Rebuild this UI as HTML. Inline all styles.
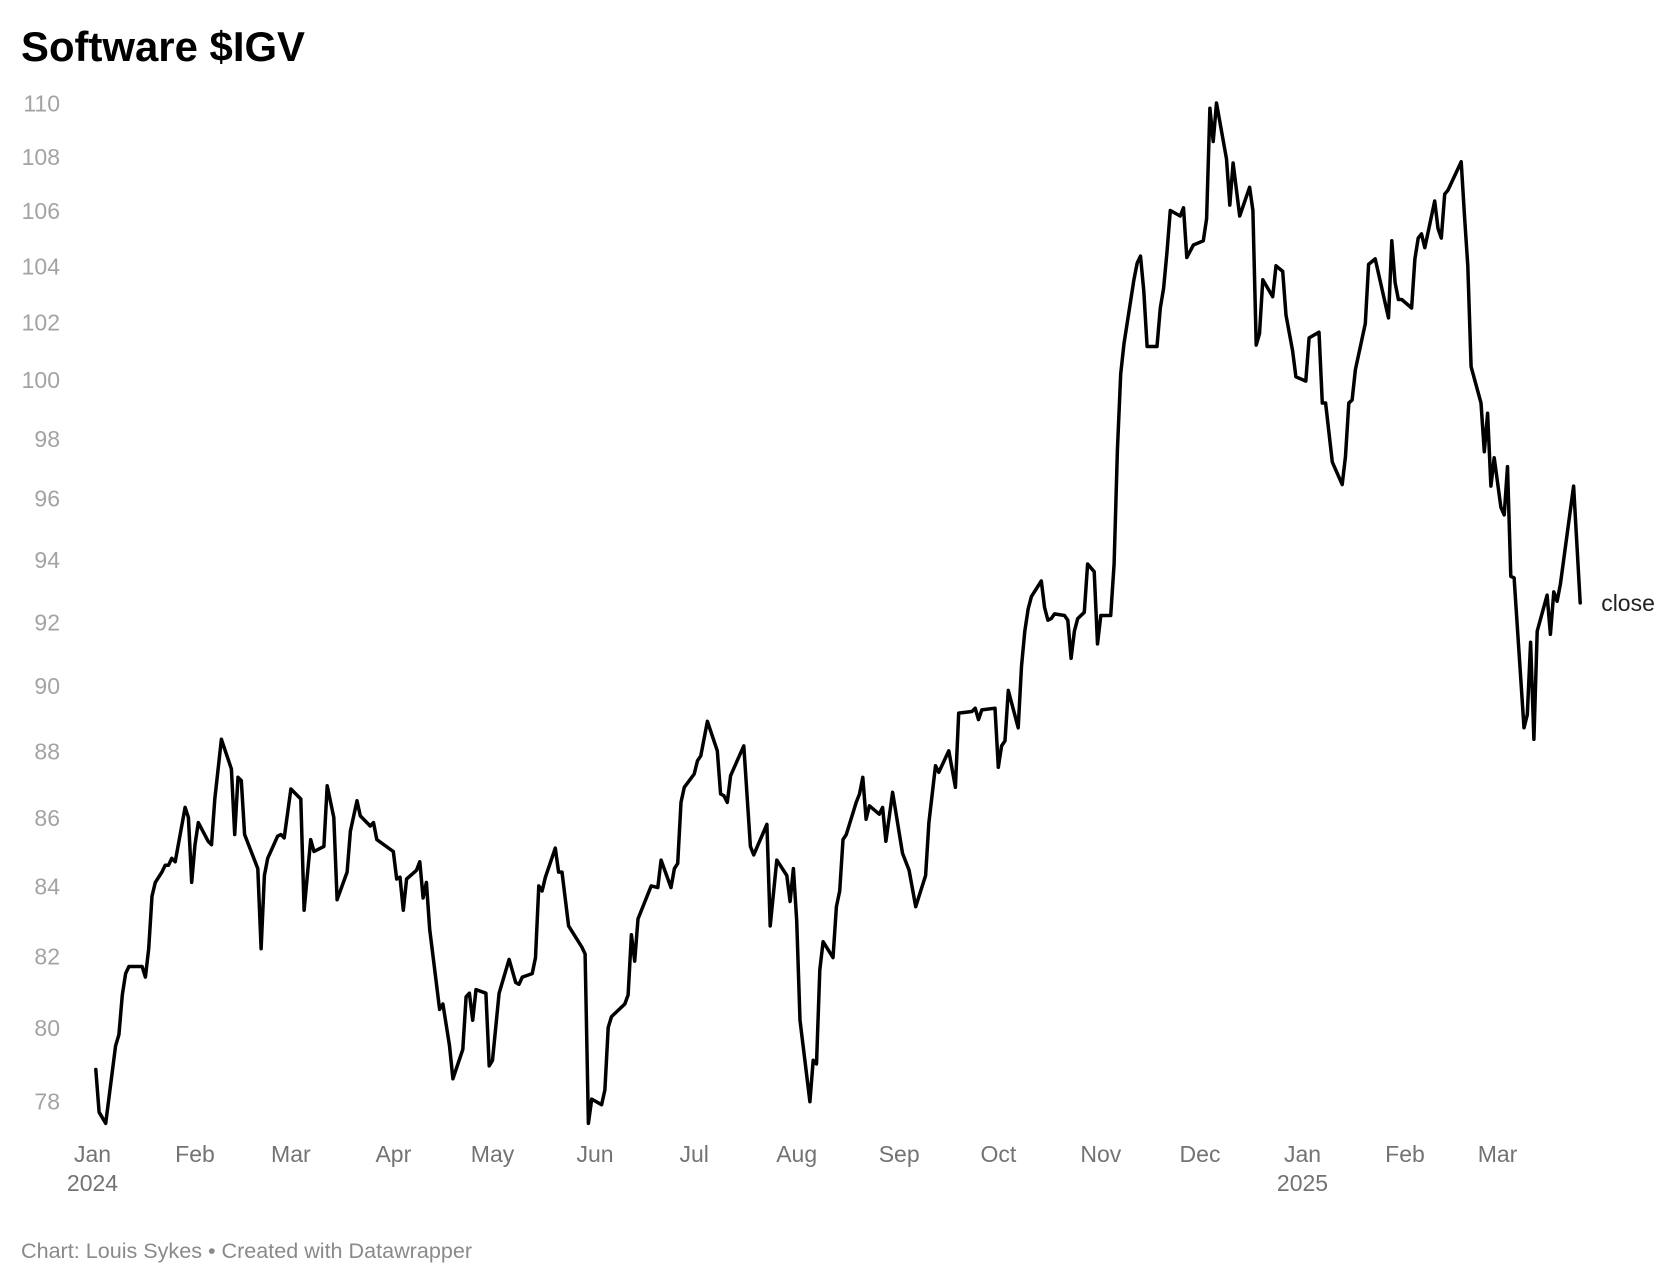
<!DOCTYPE html>
<html>
<head>
<meta charset="utf-8">
<title>Software $IGV</title>
<style>
  html,body{margin:0;padding:0;background:#fff;}
  svg{display:block;font-family:"Liberation Sans",Arial,sans-serif;}
</style>
</head>
<body>
<svg id="chart" width="1680" height="1284" viewBox="0 0 1680 1284" xmlns="http://www.w3.org/2000/svg">
  <rect x="0" y="0" width="1680" height="1284" fill="#ffffff"/>
  <text x="21" y="61" font-size="42" font-weight="bold" fill="#000" textLength="284" lengthAdjust="spacingAndGlyphs">Software $IGV</text>
  <g id="yaxis"></g>
  <g id="xaxis"></g>
  <g id="plot"></g>
  <text x="21" y="1258" font-size="21" fill="#8a8a8a" textLength="451" lengthAdjust="spacingAndGlyphs">Chart: Louis Sykes • Created with Datawrapper</text>
</svg>
<script>
// Days since 2024-01-01
const days = [1,2,4,7,8,9,10,11,15,16,17,18,19,21,22,23,24,25,28,29,30,31,32,35,36,37,39,42,43,44,45,46,50,51,52,53,56,57,58,60,63,64,66,67,70,71,73,74,
77,78,80,81,84,85,86,91,92,93,94,95,98,99,100,101,102,105,106,108,109,112,113,114,115,116,119,120,121,123,126,128,129,130,133,134,135,136,137,140,141,142,144,148,149,150,151,154,155,156,157,161,162,163,164,165,169,171,172,
175,176,177,178,179,182,183,184,186,189,190,191,192,193,195,197,199,200,204,205,207,210,211,212,213,214,217,218,219,220,221,224,225,226,227,228,231,232,233,234,235,238,239,240,242,245,247,249,252,253,255,256,259,261,262,266,267,268,269,
273,274,275,276,277,280,281,282,283,284,287,288,289,290,291,294,295,296,297,298,300,301,303,304,305,308,309,310,311,312,315,316,317,318,319,322,323,324,325,326,329,330,331,333,336,337,338,339,340,343,344,345,347,350,351,352,353,354,357,358,360,361,363,364,367,368,371,372,373,
375,378,379,380,381,382,385,386,388,392,393,394,395,396,399,400,401,402,403,406,407,408,409,410,414,415,416,417,420,421,422,423,424,426,427,428,429,430,433,434,435,436,437,440,441,442,443,444,448,450];
const closes = [78.85,77.7,77.4,79.5,79.8,80.9,81.5,81.7,81.7,81.4,82.2,83.7,84.1,84.4,84.6,84.6,84.8,84.7,86.3,86.0,84.1,85.2,85.85,85.3,85.2,86.55,88.35,87.45,85.5,87.2,87.1,85.5,84.5,82.2,84.3,84.8,85.45,85.5,85.4,86.85,86.55,83.3,85.35,85.0,85.15,86.95,86.0,83.6,
84.4,85.6,86.5,86.05,85.75,85.85,85.35,85.0,84.2,84.25,83.3,84.2,84.45,84.7,83.65,84.1,82.75,80.5,80.65,79.5,78.6,79.4,80.85,80.95,80.2,81.05,80.95,78.95,79.1,80.95,81.9,81.25,81.2,81.4,81.5,81.95,84.0,83.85,84.25,85.1,84.4,84.4,82.85,82.25,82.05,77.4,78.05,77.9,78.3,80.0,80.3,80.65,80.9,82.6,81.85,83.05,84.0,83.95,84.75,
83.95,84.5,84.65,86.45,86.9,87.3,87.7,87.85,88.9,88.0,86.7,86.65,86.45,87.25,87.7,88.15,85.15,84.9,85.8,82.85,84.75,84.3,83.55,84.5,83.0,80.2,77.98,79.1,79.0,81.6,82.4,81.95,83.4,83.85,85.35,85.5,86.45,86.7,87.2,85.95,86.35,86.1,86.3,85.3,86.75,84.95,84.45,83.4,84.3,85.85,87.55,87.35,88.0,86.9,89.15,89.2,89.3,88.95,89.25,
89.3,87.5,88.15,88.3,89.85,88.7,90.6,91.7,92.4,92.8,93.3,92.45,92.05,92.1,92.25,92.2,92.05,90.85,91.7,92.1,92.3,93.85,93.6,91.3,92.2,92.2,93.85,97.6,100.2,101.25,103.5,104.1,104.35,103.1,101.15,101.15,102.5,103.2,104.5,106.0,105.8,106.1,104.3,104.75,104.9,105.7,109.8,108.55,110.0,107.9,106.2,107.75,105.8,106.85,106.0,101.2,101.6,103.5,102.9,104.0,103.8,102.25,101.0,100.1,99.95,101.45,101.65,99.2,99.2,
97.2,96.45,97.4,99.2,99.3,100.35,101.95,104.05,104.25,102.15,104.9,103.4,102.8,102.8,102.5,104.25,105.0,105.15,104.65,106.35,105.35,105.0,106.6,106.75,107.8,105.8,104.0,100.45,99.2,97.55,98.85,96.4,97.35,95.7,95.45,97.05,93.45,93.4,88.7,89.1,91.35,88.35,91.7,92.85,91.6,92.95,92.65,93.2,96.4,92.6];
const yTicks = [110,108,106,104,102,100,98,96,94,92,90,88,86,84,82,80,78];
const monthLabels = ["Jan","Feb","Mar","Apr","May","Jun","Jul","Aug","Sep","Oct","Nov","Dec","Jan","Feb","Mar"];
const monthDays = [0,31,60,91,121,152,182,213,244,274,305,335,366,397,425];
const yearLabels = ["2024","","","","","","","","","","","","2025","",""];
const seriesLabel = "close";

const NS = "http://www.w3.org/2000/svg";
const X0 = 92.5, PX_PER_DAY = 3.306;
const Y_TOP = 103, Y_BOT = 1101, V_TOP = 110, V_BOT = 78;
function xScale(d){ return X0 + d * PX_PER_DAY; }
function yScale(v){ return Y_TOP + (Math.log(V_TOP) - Math.log(v)) / (Math.log(V_TOP) - Math.log(V_BOT)) * (Y_BOT - Y_TOP); }

const yaxis = document.getElementById('yaxis');
yTicks.forEach(function(t){
  const el = document.createElementNS(NS,'text');
  
  
  el.setAttribute('x', 60);
  el.setAttribute('y', yScale(t) + 8.5);
  el.setAttribute('text-anchor', 'end');
  el.setAttribute('font-size', '23');
  el.setAttribute('fill', '#a3a3a3');
  el.textContent = t;
  yaxis.appendChild(el);
});

const xaxis = document.getElementById('xaxis');
monthLabels.forEach(function(m, i){
  const el = document.createElementNS(NS,'text');
  
  
  el.setAttribute('x', xScale(monthDays[i]));
  el.setAttribute('y', 1162);
  el.setAttribute('text-anchor', 'middle');
  el.setAttribute('font-size', '23');
  el.setAttribute('fill', '#737373');
  el.textContent = m;
  xaxis.appendChild(el);
  if (yearLabels[i]) {
    const yr = document.createElementNS(NS,'text');
    
    
    yr.setAttribute('x', xScale(monthDays[i]));
    yr.setAttribute('y', 1191);
    yr.setAttribute('text-anchor', 'middle');
    yr.setAttribute('font-size', '23');
    yr.setAttribute('fill', '#737373');
    yr.textContent = yearLabels[i];
    xaxis.appendChild(yr);
  }
});

const plot = document.getElementById('plot');
let d = '';
days.forEach(function(dd, i){
  d += (i ? 'L' : 'M') + xScale(dd).toFixed(1) + ',' + yScale(closes[i]).toFixed(1);
});
const path = document.createElementNS(NS,'path');


path.setAttribute('d', d);
path.setAttribute('fill', 'none');
path.setAttribute('stroke', '#000');
path.setAttribute('stroke-width', '3.5');
path.setAttribute('stroke-linejoin', 'round');
path.setAttribute('stroke-linecap', 'round');
plot.appendChild(path);

const last = days.length - 1;
const lbl = document.createElementNS(NS,'text');


lbl.setAttribute('x', xScale(days[last]) + 21);
lbl.setAttribute('y', yScale(closes[last]) + 8);
lbl.setAttribute('font-size', '23');
lbl.setAttribute('fill', '#222');
lbl.textContent = seriesLabel;
plot.appendChild(lbl);
</script>
</body>
</html>
